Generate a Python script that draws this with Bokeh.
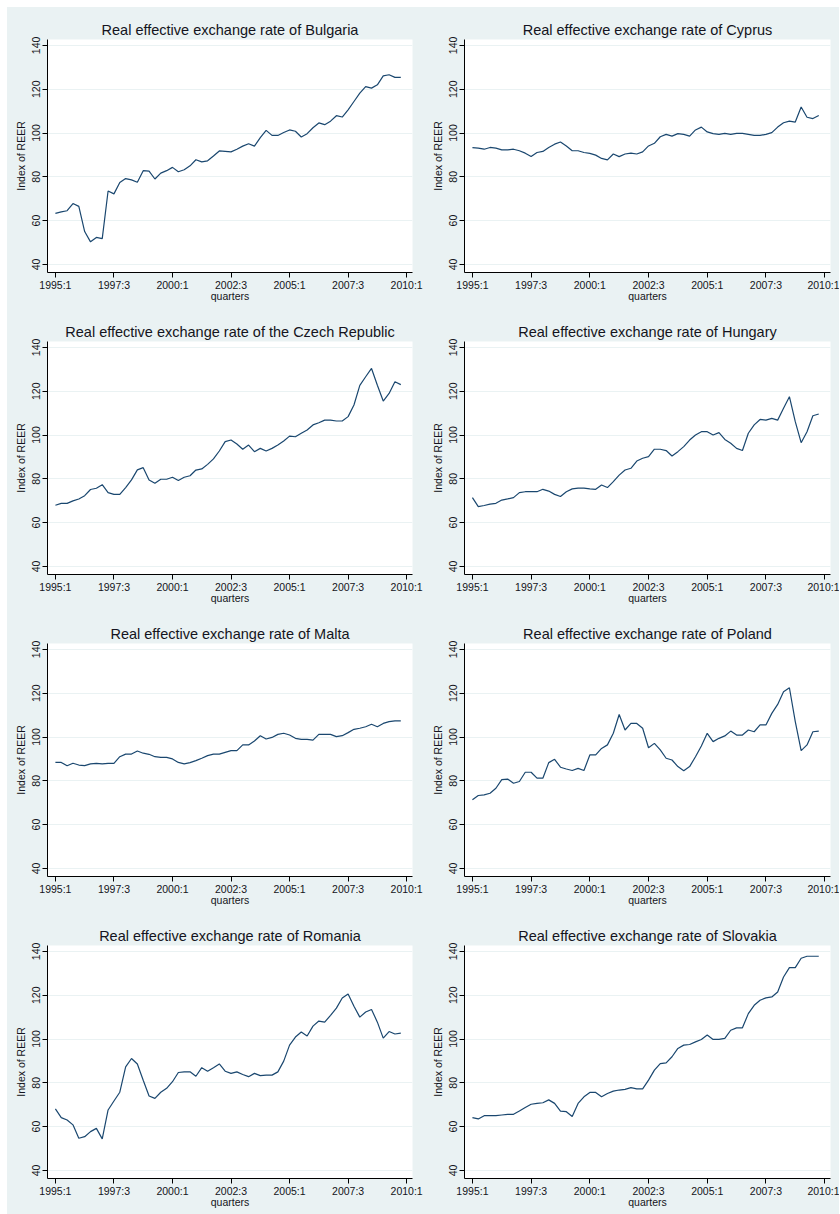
from bokeh.plotting import figure
from bokeh.layouts import gridplot
from bokeh.models import FixedTicker, Range1d
from bokeh.embed import file_html
from bokeh.resources import INLINE

quarter_index = list(range(60))
tick_positions = [0, 10, 20, 30, 40, 50, 60]
tick_labels = ["1995:1", "1997:3", "2000:1", "2002:3", "2005:1", "2007:3", "2010:1"]
y_ticks = [40, 60, 80, 100, 120, 140]

countries = ["Bulgaria", "Cyprus", "the Czech Republic", "Hungary",
             "Malta", "Poland", "Romania", "Slovakia"]

bulgaria = [63.3, 64.0, 64.5, 67.8, 66.5, 55.0, 50.3, 52.3, 51.8, 73.5,
            72.2, 77.4, 79.2, 78.6, 77.5, 82.8, 82.6, 79.0, 81.7, 82.8,
            84.3, 82.3, 83.2, 85.0, 87.8, 86.8, 87.3, 89.5, 91.8, 91.6,
            91.4, 92.6, 94.0, 95.1, 94.0, 97.9, 101.2, 98.9, 98.9, 100.2,
            101.4, 100.8, 98.2, 99.7, 102.4, 104.6, 103.8, 105.4, 107.9, 107.3,
            110.6, 114.4, 118.2, 121.2, 120.5, 122.0, 126.1, 126.6, 125.4, 125.4]
cyprus = [93.3, 93.1, 92.6, 93.4, 93.1, 92.3, 92.3, 92.6, 91.9, 90.8,
          89.3, 91.1, 91.6, 93.4, 94.9, 95.9, 94.1, 91.9, 91.9, 91.1,
          90.7, 89.9, 88.4, 87.7, 90.4, 89.2, 90.4, 90.8, 90.4, 91.4,
          94.1, 95.3, 98.3, 99.4, 98.6, 99.7, 99.4, 98.6, 101.4, 102.7,
          100.5, 99.7, 99.4, 99.8, 99.4, 99.8, 99.8, 99.4, 98.9, 98.9,
          99.4, 100.2, 102.7, 104.7, 105.4, 105.0, 111.9, 107.2, 106.6, 108.0]
czech = [67.9, 68.8, 68.8, 69.9, 70.8, 72.3, 75.1, 75.7, 77.3, 73.7,
         72.9, 72.9, 76.0, 79.5, 84.1, 85.1, 79.5, 78.0, 79.8, 79.8,
         80.7, 79.2, 80.7, 81.4, 84.0, 84.5, 86.6, 89.1, 92.7, 97.0,
         97.7, 95.9, 93.5, 95.4, 92.4, 93.9, 92.7, 93.9, 95.4, 97.3,
         99.5, 99.2, 100.8, 102.3, 104.6, 105.6, 106.8, 106.8, 106.4, 106.4,
         108.4, 113.7, 122.7, 126.6, 130.4, 122.7, 115.5, 119.0, 124.3, 123.0]
hungary = [71.4, 67.3, 67.8, 68.4, 68.8, 70.3, 70.8, 71.4, 73.7, 74.1,
           74.1, 74.1, 75.2, 74.4, 72.9, 71.9, 74.1, 75.4, 75.7, 75.7,
           75.4, 75.2, 77.2, 76.0, 78.7, 81.7, 84.0, 84.8, 88.1, 89.4,
           90.1, 93.5, 93.5, 92.9, 90.4, 92.4, 94.7, 97.7, 100.0, 101.5,
           101.5, 100.0, 101.1, 98.0, 96.2, 93.9, 92.9, 100.8, 104.6, 107.1,
           106.8, 107.6, 106.8, 112.2, 117.5, 106.1, 96.5, 101.5, 108.8, 109.6]
malta = [88.4, 88.4, 86.9, 88.0, 87.2, 86.9, 87.7, 88.0, 87.7, 88.0,
         88.0, 91.0, 92.2, 92.2, 93.6, 92.6, 92.1, 91.0, 90.7, 90.7,
         90.0, 88.4, 87.7, 88.3, 89.2, 90.3, 91.5, 92.2, 92.2, 93.0,
         93.8, 93.8, 96.4, 96.4, 98.2, 100.6, 99.1, 99.8, 101.2, 101.7,
         100.9, 99.4, 98.9, 98.9, 98.6, 101.2, 101.2, 101.2, 100.2, 100.6,
         102.0, 103.5, 104.0, 104.7, 105.8, 104.7, 106.2, 107.0, 107.4, 107.4]
poland = [71.3, 73.3, 73.6, 74.3, 76.6, 80.5, 80.8, 78.9, 79.7, 83.9,
          83.9, 81.2, 81.2, 88.3, 89.8, 86.2, 85.4, 84.7, 85.7, 84.7,
          91.8, 91.8, 94.8, 96.4, 101.7, 110.3, 103.2, 106.2, 106.2, 104.0,
          95.1, 97.1, 94.1, 90.3, 89.5, 86.5, 84.6, 86.5, 91.0, 95.9,
          101.7, 97.9, 99.4, 100.5, 102.7, 100.9, 100.9, 103.2, 102.4, 105.5,
          105.5, 110.8, 114.9, 120.7, 122.5, 107.0, 93.8, 96.4, 102.4, 102.7]
romania = [68.1, 64.1, 63.0, 60.8, 54.7, 55.4, 57.7, 59.2, 54.4, 67.6,
           71.7, 75.7, 87.3, 91.1, 88.6, 81.2, 74.0, 72.9, 75.7, 77.5,
           80.5, 84.7, 85.0, 85.0, 83.0, 86.9, 85.3, 86.9, 88.6, 85.3,
           84.3, 85.0, 83.8, 82.8, 84.3, 83.3, 83.5, 83.5, 85.0, 89.9,
           97.2, 100.9, 103.2, 101.4, 105.9, 108.2, 107.7, 110.8, 114.1, 118.7,
           120.6, 115.0, 110.0, 112.3, 113.5, 107.7, 100.4, 103.4, 102.3, 102.7]
slovakia = [64.1, 63.5, 65.0, 65.0, 65.0, 65.3, 65.6, 65.6, 67.1, 68.7,
            70.2, 70.6, 70.9, 72.2, 70.6, 67.1, 66.8, 64.6, 70.6, 73.6,
            75.6, 75.6, 73.6, 75.1, 76.2, 76.7, 77.0, 77.8, 77.2, 77.2,
            81.2, 85.8, 88.8, 89.1, 91.9, 95.7, 97.2, 97.5, 98.7, 99.8,
            101.8, 99.8, 99.8, 100.3, 104.0, 105.1, 105.1, 111.6, 115.4, 117.7,
            118.8, 119.2, 121.5, 128.3, 132.6, 132.6, 136.9, 137.8, 137.8, 137.8]

series = [bulgaria, cyprus, czech, hungary, malta, poland, romania, slovakia]

BG = "#EAF2F3"
LINE = "#1A476F"
FONT = "Liberation Sans"
TXT = "#141420"

figs = []
for i, (name, vals) in enumerate(zip(countries, series)):
    left_col = (i % 2 == 0)
    last_row = i >= 6
    p = figure(width=416, height=301 if last_row else 302,
               output_backend="svg", toolbar_location=None,
               x_range=Range1d(-1.35, 61.0), y_range=Range1d(36.3, 142.7),
               min_border_left=40 if left_col else 41,
               min_border_right=11 if left_col else 9,
               min_border_top=32, min_border_bottom=36 if last_row else 37,
               title="Real effective exchange rate of " + name)
    p.title.align = "center"
    p.title.text_font = FONT
    p.title.text_font_size = "14.5px"
    p.title.text_font_style = "normal"
    p.title.text_color = TXT
    p.title.standoff = 4
    p.border_fill_color = BG
    p.background_fill_color = "white"
    p.outline_line_color = None

    p.line(quarter_index, vals, line_color=LINE, line_width=1.2)

    p.xaxis.ticker = FixedTicker(ticks=tick_positions)
    p.xaxis.major_label_overrides = {t: l for t, l in zip(tick_positions, tick_labels)}
    p.yaxis.ticker = FixedTicker(ticks=y_ticks)
    p.yaxis.major_label_orientation = "vertical"
    p.xaxis.axis_label = "quarters"
    p.yaxis.axis_label = "Index of REER"
    for ax in (p.xaxis[0], p.yaxis[0]):
        ax.axis_line_color = "black"
        ax.axis_line_width = 1
        ax.major_tick_line_color = "black"
        ax.major_tick_out = 5
        ax.major_tick_in = 0
        ax.minor_tick_line_color = None
        ax.major_label_text_font = FONT
        ax.major_label_text_font_size = "10.5px"
        ax.major_label_text_color = TXT
        ax.axis_label_text_font = FONT
        ax.axis_label_text_font_size = "10.5px"
        ax.axis_label_text_font_style = "normal"
        ax.axis_label_text_color = TXT
        ax.major_label_standoff = 2
    p.xaxis.major_label_standoff = 1
    p.xaxis.axis_label_standoff = -4
    p.yaxis.axis_label_standoff = 3
    p.xgrid.grid_line_color = None
    p.ygrid.grid_line_color = BG
    p.ygrid.grid_line_width = 1
    figs.append(p)

grid = gridplot(figs, ncols=2, toolbar_location=None)
grid.spacing = 0
grid.margin = (7, 0, 0, 7)
grid.styles = {"background-color": BG}
open("out.html", "w").write(file_html(grid, INLINE))
